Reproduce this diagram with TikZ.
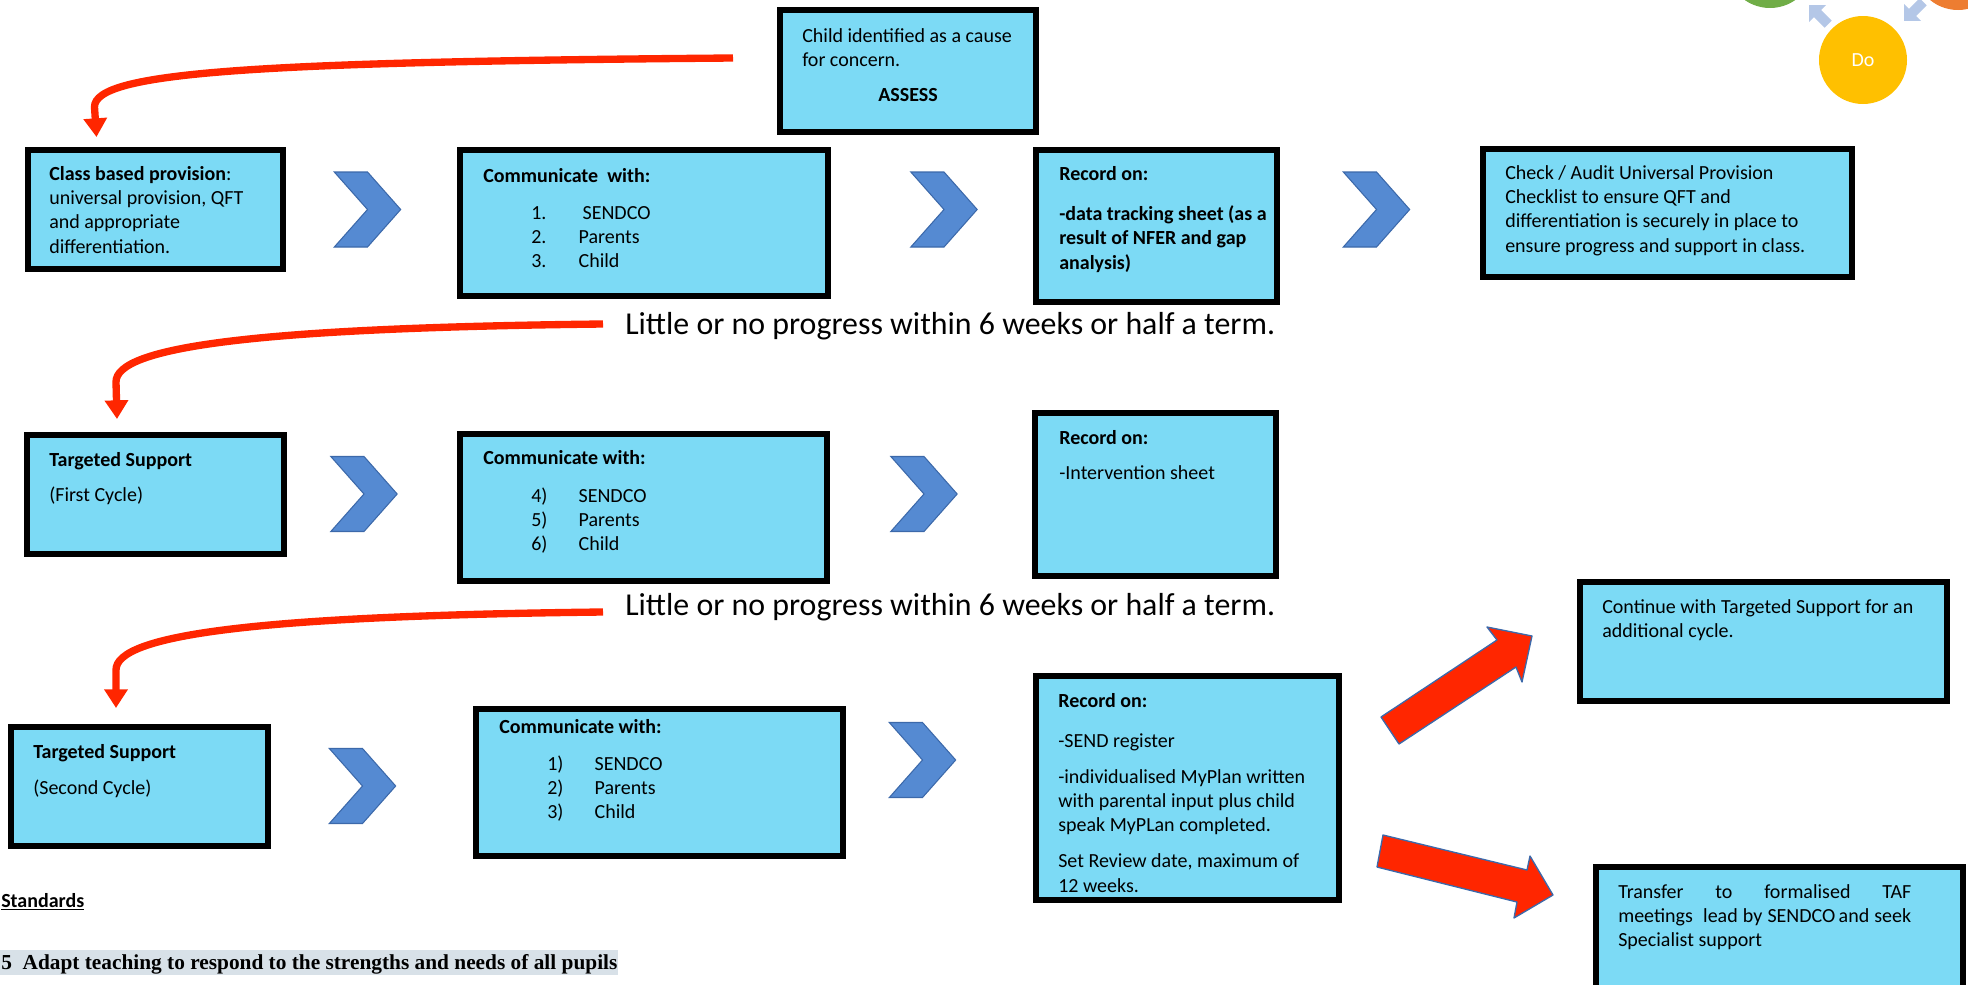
\documentclass[tikz,border=0pt]{standalone}
\usepackage{fontspec}
\setmainfont{Carlito}
\newfontfamily\tsfont{Liberation Serif}
\usetikzlibrary{arrows.meta,positioning,fit,calc,shapes.symbols}

\definecolor{boxcyan}{RGB}{124,218,245}
\definecolor{chevblue}{RGB}{85,138,210}
\definecolor{chevedge}{RGB}{60,105,170}
\definecolor{loopred}{RGB}{255,38,0}
\definecolor{doyellow}{RGB}{255,192,0}
\definecolor{plangreen}{RGB}{112,173,71}
\definecolor{revorange}{RGB}{237,125,49}
\definecolor{cycblue}{RGB}{180,199,231}
\definecolor{bandgrey}{RGB}{216,225,232}

% first baseline of a stack of lines sits on the node's base anchor
\newcommand\stacklines[1]{\begin{tabular}[t]{@{}l@{}}#1\end{tabular}}

\tikzset{
  stagebox/.style={draw=black, line width=4.5pt, fill=boxcyan, inner sep=0pt},
  boxtext/.style={anchor=base west, inner sep=0pt, font=\fontsize{15}{18.3}\selectfont},
  boldtext/.style={boxtext, font=\fontsize{15}{18.3}\selectfont\bfseries},
  stepchev/.style={signal, signal to=east, signal from=west, signal pointer angle=97, fill=chevblue, draw=chevedge, line width=0.8pt, inner sep=0pt, minimum width=48.75pt, minimum height=56.25pt},
  loopline/.style={draw=loopred, line width=5.5pt, -{Triangle[length=14pt,width=17pt]}},
  notetext/.style={anchor=base west, inner sep=0pt, font=\fontsize{23.9}{28}\selectfont},
  blockarrow/.style={fill=loopred, draw=chevedge, line width=1pt, line join=round},
  cyclenode/.style={circle, minimum size=66pt, inner sep=0pt, font=\fontsize{15}{18}\selectfont}
}

\begin{document}
\begin{tikzpicture}[x=0.75pt,y=0.75pt,yscale=-1,xscale=1]
\useasboundingbox (0,0) rectangle (1968,985);

% cycle in the top right corner (cut off)
\node[cyclenode, fill=plangreen] (plan) at (1770,-36) {};
\node[cyclenode, fill=revorange] (review) at (1958,-34) {};
\node[cyclenode, fill=doyellow, text=white] (do) at (1863,60) {Do};
\begin{scope}[shift={(1819,15)}, rotate=225]
\fill[cycblue] (-13,-5) -- (2,-5) -- (2,-12) -- (14,0) -- (2,12) -- (2,5) -- (-13,5) -- cycle;
\end{scope}
\begin{scope}[shift={(1914,11)}, rotate=135]
\fill[cycblue] (-13,-5) -- (2,-5) -- (2,-12) -- (14,0) -- (2,12) -- (2,5) -- (-13,5) -- cycle;
\end{scope}

% Row 1
\node[stagebox, fit={(780,10) (1036,132)}] (assess) {};
\node[boxtext] (assess-txt) at (802,42) {\stacklines{Child identified as a cause\\for concern.}};
\node[boldtext, anchor=base] (assess-tag) at (908,101) {ASSESS};

\node[stagebox, fit={(27.5,150) (283,269)}] (class) {};
\node[boxtext] (class-txt) at (49,180) {\stacklines{\textbf{Class based provision}:\\universal provision, QFT\\and appropriate\\differentiation.}};

\node[stagebox, fit={(460,150) (828,296)}] (comm1) {};
\node[boldtext] (comm1-head) at (483,182) {Communicate~~with:};
\node[boxtext] (comm1-list) at (531,219) {\stacklines{\makebox[35.5pt][l]{1.}\hspace{3pt}SENDCO\\\makebox[35.5pt][l]{2.}Parents\\\makebox[35.5pt][l]{3.}Child}};

\node[stagebox, fit={(1036,150) (1277,302)}] (rec1) {};
\node[boldtext] (rec1-txt) at (1059,180) {\stacklines{Record on:\\[12pt]-data tracking sheet (as a\\result of NFER and gap\\analysis)}};

\node[stagebox, fit={(1483,149) (1852,277)}] (check) {};
\node[boxtext] (check-txt) at (1505,179) {\stacklines{Check / Audit Universal Provision\\Checklist to ensure QFT and\\differentiation is securely in place to\\ensure progress and support in class.}};

\node[stepchev] (ch11) at (367.5,209.5) {};
\node[stepchev] (ch12) at (944,209.5) {};
\node[stepchev] (ch13) at (1376.5,209.5) {};

% Row 2
\node[notetext] (note1) at (625,334) {Little or no progress within 6 weeks or half a term.};

\node[stagebox, fit={(27,435) (284,554)}] (targ1) {};
\node[boxtext] (targ1-txt) at (49,466) {\stacklines{\textbf{Targeted Support}\\[8pt](First Cycle)}};

\node[stagebox, fit={(460,434) (827,581)}] (comm2) {};
\node[boldtext] (comm2-head) at (483,464) {Communicate with:};
\node[boxtext] (comm2-list) at (531,502) {\stacklines{\makebox[35.5pt][l]{4)}SENDCO\\\makebox[35.5pt][l]{5)}Parents\\\makebox[35.5pt][l]{6)}Child}};

\node[stagebox, fit={(1035,413) (1276,576)}] (rec2) {};
\node[boxtext] (rec2-txt) at (1059,444) {\stacklines{\textbf{Record on:}\\[8pt]-Intervention sheet}};

\node[stepchev] (ch21) at (364,494) {};
\node[stepchev] (ch22) at (924,494) {};

% Row 3
\node[notetext] (note2) at (625,615) {Little or no progress within 6 weeks or half a term.};

\node[stagebox, fit={(11,727) (268,846)}] (targ2) {};
\node[boxtext] (targ2-txt) at (33,758) {\stacklines{\textbf{Targeted Support}\\[8.7pt](Second Cycle)}};

\node[stagebox, fit={(476,709) (843,856)}] (comm3) {};
\node[boldtext] (comm3-head) at (499,733) {Communicate with:};
\node[boxtext] (comm3-list) at (547,770) {\stacklines{\makebox[35.5pt][l]{1)}SENDCO\\\makebox[35.5pt][l]{2)}Parents\\\makebox[35.5pt][l]{3)}Child}};

\node[stagebox, fit={(1036,676) (1339,900)}] (rec3) {};
\node[boxtext] (rec3-txt) at (1058,707) {\stacklines{\textbf{Record on:}\\[11.7pt]-SEND register\\[8.7pt]-individualised MyPlan written\\with parental input plus child\\speak MyPLan completed.\\[8.7pt]Set Review date, maximum of\\12 weeks.}};

\node[stepchev] (ch31) at (362.5,786) {};
\node[stepchev] (ch32) at (922.5,760) {};

\node[stagebox, fit={(1580,582) (1947,701)}] (cont) {};
\node[boxtext] (cont-txt) at (1602,613) {\stacklines{Continue with Targeted Support for an\\additional cycle.}};

\node[stagebox, fit={(1596,867) (1963,1000)}] (transfer) {};
\node[boxtext] (transfer-txt) at (1618,898) {\stacklines{\makebox[219.75pt][s]{Transfer\hfill to\hfill formalised\hfill TAF}\\\makebox[219.75pt][s]{meetings\ \ lead by SENDCO\,and seek}\\Specialist support}};

% red block arrows out of the last record box
\draw[blockarrow] (1381,717) -- (1497,640) -- (1487,627) -- (1532,636) -- (1522,682) -- (1516,667) -- (1399,744) -- cycle;
\draw[blockarrow] (1383,835) -- (1527,870) -- (1530,856) -- (1553,895) -- (1514,918) -- (1517,902) -- (1377,867) -- cycle;

% loops back to the start of each row
\coordinate (loop1) at (733,58);
\coordinate (loop2) at (603,324);
\coordinate (loop3) at (603,612);
\draw[loopline] (loop1) .. controls +(-480,4) and +(0,-35) .. ($(class.north west)+(70,-40)$) -- ($(class.north west)+(72,-10)$);
\draw[loopline] (loop2) .. controls +(-350,4) and +(0,-35) .. ($(targ1.north west)+(92,-50)$) -- ($(targ1.north west)+(93,-13)$);
\draw[loopline] (loop3) .. controls +(-350,4) and +(0,-35) .. ($(targ2.north west)+(108,-54)$) -- ($(targ2.north west)+(108,-16)$);

% standards text at the bottom
\node[anchor=base west, inner sep=0pt, font=\fontsize{15}{18}\selectfont\bfseries] (std) at (1,907) {\underline{Standards}};
\fill[bandgrey] (0,950) rectangle (618,975);
\node[anchor=base west, inner sep=0pt, font=\tsfont\bfseries\fontsize{16}{19}\selectfont] (ts5) at (1,969) {5\ \ Adapt teaching to respond to the strengths and needs of all pupils};

\end{tikzpicture}
\end{document}
